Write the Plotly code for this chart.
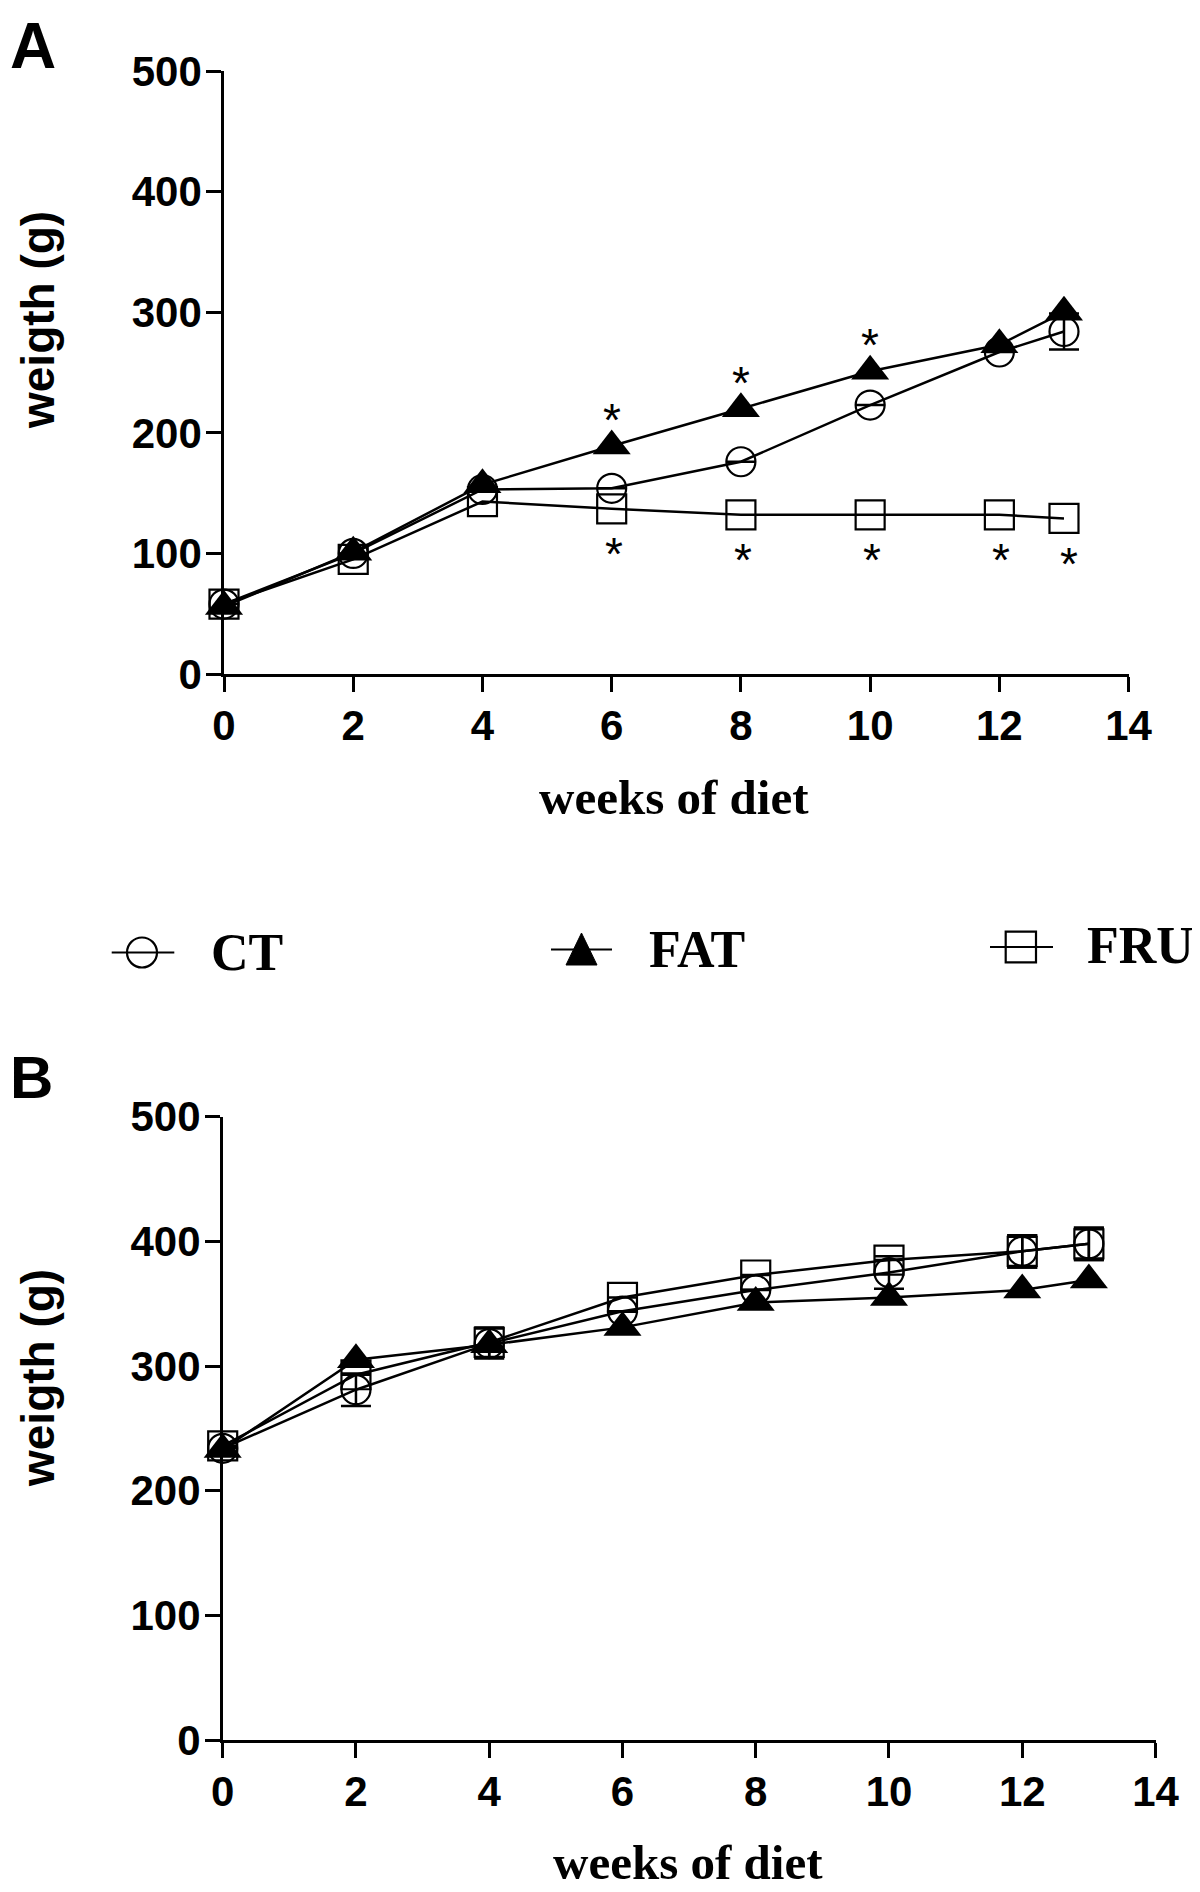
import plotly.graph_objects as go

# ---------------- data ----------------
weeks = [0, 2, 4, 6, 8, 10, 12, 13]
x_ticks = [0, 2, 4, 6, 8, 10, 12, 14]
y_ticks = [0, 100, 200, 300, 400, 500]

# Panel A
ct_a = [58, 100, 153, 154, 176, 223, 267, 284]
fat_a = [56, 101, 157, 189, 220, 251, 273, 300]
fru_a = [58, 95, 143, 137, 132, 132, 132, 129]
ct_a_err = [None, None, None, None, None, None, None, 15]
sig_above_weeks = [6, 8, 10]          # * above FAT
sig_below_weeks = [6, 8, 10, 12, 13]  # * below FRU

# Panel B
ct_b = [234, 281, 318, 344, 361, 375, 392, 398]
fat_b = [233, 305, 317, 331, 351, 355, 361, 369]
fru_b = [236, 293, 319, 355, 373, 385, 392, 398]
ct_b_err = [None, 13, 12, None, None, 13, 13, 13]
fru_b_err = [None, None, 12, None, None, None, 13, 13]

series_names = ["CT", "FAT", "FRU"]
y_title = "weigth (g)"
x_title = "weeks of diet"

# ---------------- layout helpers ----------------
W, H = 1200, 1892
OFF = 8  # page body margin compensation
def px(x):
    return (x - OFF) / W
def py(y):
    return 1 - (y - OFF) / H

SANS = "Liberation Sans, Arial, sans-serif"
SERIF = "Liberation Serif, Times New Roman, serif"

styles = {
    "CT": dict(symbol="circle-open", size=29, color="black", line=dict(width=2.2, color="black")),
    "FAT": dict(symbol="triangle-up", size=33, color="black", line=dict(width=0, color="black")),
    "FRU": dict(symbol="square-open", size=29, color="black", line=dict(width=2.2, color="black")),
}

fig = go.Figure()

def add_series(xa, ya, name, yvals, err=None):
    kw = {}
    if err is not None:
        kw["error_y"] = dict(type="data", array=err, visible=True, color="black",
                             thickness=2.5, width=15)
    fig.add_trace(go.Scatter(
        x=weeks, y=yvals, name=name, mode="lines+markers",
        line=dict(color="black", width=2.5),
        marker=styles[name], xaxis=xa, yaxis=ya,
        cliponaxis=False, showlegend=False, **kw))

add_series("x", "y", "CT", ct_a, ct_a_err)
add_series("x", "y", "FAT", fat_a)
add_series("x", "y", "FRU", fru_a)
add_series("x2", "y2", "CT", ct_b, ct_b_err)
add_series("x2", "y2", "FAT", fat_b)
add_series("x2", "y2", "FRU", fru_b, fru_b_err)

axis_common = dict(
    showline=True, linecolor="black", linewidth=2.5,
    ticks="outside", ticklen=15, tickwidth=2.5, tickcolor="black",
    showgrid=False, zeroline=False,
    tickfont=dict(family=SANS, size=42, color="black", weight="bold"),
)

fig.update_layout(
    width=W, height=H,
    margin=dict(l=0, r=0, t=0, b=0, autoexpand=False),
    paper_bgcolor="white", plot_bgcolor="white",
    showlegend=False,
    xaxis=dict(domain=[px(224), px(1128.6)], range=[0, 14], tickvals=x_ticks,
               anchor="y", ticklabelstandoff=-2, **axis_common),
    yaxis=dict(domain=[py(674), py(71)], range=[0, 500], tickvals=y_ticks,
               anchor="x", ticklabelstandoff=-4, **axis_common),
    xaxis2=dict(domain=[px(222.7), px(1155.5)], range=[0, 14], tickvals=x_ticks,
                anchor="y2", ticklabelstandoff=-2, **axis_common),
    yaxis2=dict(domain=[py(1740), py(1116.7)], range=[0, 500], tickvals=y_ticks,
                anchor="x2", ticklabelstandoff=-4, **axis_common),
)

ann = []
# panel letters
ann.append(dict(text="A", x=0, y=py(46), xref="paper", yref="paper",
                xanchor="left", yanchor="middle", showarrow=False,
                font=dict(family=SANS, size=64, color="black", weight="bold")))
ann.append(dict(text="B", x=0, y=py(1077), xref="paper", yref="paper",
                xanchor="left", yanchor="middle", showarrow=False,
                font=dict(family=SANS, size=60, color="black", weight="bold")))
# y titles
for cy in (320, 1378):
    ann.append(dict(text=y_title, x=px(38), y=py(cy), xref="paper", yref="paper",
                    xanchor="center", yanchor="middle", textangle=-90, showarrow=False,
                    font=dict(family=SANS, size=46, color="black", weight="bold")))
# x titles
for cx, cy in ((674, 797), (688, 1862)):
    ann.append(dict(text=x_title, x=px(cx), y=py(cy), xref="paper", yref="paper",
                    xanchor="center", yanchor="middle", showarrow=False,
                    font=dict(family=SERIF, size=49, color="black", weight="bold")))
# significance asterisks (panel A)
for w in sig_above_weeks:
    v = fat_a[weeks.index(w)]
    ann.append(dict(text="*", x=w, y=v + 29, xref="x", yref="y", showarrow=False,
                    yshift=-9, font=dict(family=SANS, size=46, color="black")))
for w in sig_below_weeks:
    v = fru_a[weeks.index(w)]
    ann.append(dict(text="*", x=w + (0.08 if w == 13 else 0.03), y=v - 30, xref="x", yref="y",
                    showarrow=False, yshift=-9, font=dict(family=SANS, size=46, color="black")))

# legend (text)
leg_items = [("CT", 209, 952), ("FAT", 647, 949), ("FRU", 1085, 946)]
for name, lx, ly in leg_items:
    ann.append(dict(text=name, x=px(lx), y=py(ly), xref="paper", yref="paper",
                    xanchor="left", yanchor="middle", showarrow=False,
                    font=dict(family=SERIF, size=52, color="black", weight="bold")))
fig.update_layout(annotations=ann)

# legend (glyphs)
shapes = []
def pline(x0, x1, y):
    return dict(type="line", xref="paper", yref="paper", x0=px(x0), x1=px(x1),
                y0=py(y), y1=py(y), line=dict(color="black", width=2.2))
shapes.append(pline(111.7, 174.3, 952.5))
shapes.append(dict(type="circle", xref="paper", yref="paper", x0=px(127), x1=px(157),
                   y0=py(967.5), y1=py(937.5), line=dict(color="black", width=2.2)))
shapes.append(pline(551, 612, 949.5))
shapes.append(dict(type="path", xref="paper", yref="paper",
                   path=f"M {px(581.5)},{py(933)} L {px(597)},{py(965)} L {px(566)},{py(965)} Z",
                   fillcolor="black", line=dict(color="black", width=1)))
shapes.append(pline(990, 1053, 947))
shapes.append(dict(type="rect", xref="paper", yref="paper", x0=px(1005.7), x1=px(1036),
                   y0=py(962.3), y1=py(931.7), line=dict(color="black", width=2.2)))
fig.update_layout(shapes=shapes)

fig.write_html("out.html")
